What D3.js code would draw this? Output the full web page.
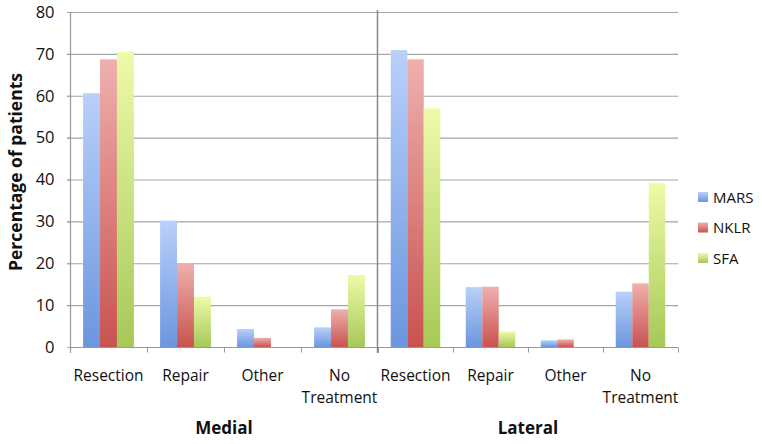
<!DOCTYPE html>
<html><head><meta charset="utf-8">
<script src="https://cdn.jsdelivr.net/npm/d3@7"></script>
<style>body{margin:0;background:#fff}svg{display:block}text{font-family:"Open Sans",sans-serif;fill:#111}</style>
</head><body><svg id="c" width="762" height="444"></svg>
<script>
const categories = ["Resection","Repair","Other","No Treatment"];
const groups = ["Medial","Lateral"];
const seriesNames = ["MARS","NKLR","SFA"];
const medialMARS = [60.6, 30.2, 4.3, 4.7];
const medialNKLR = [68.7, 20.0, 2.2, 9.0];
const medialSFA  = [70.5, 12.0, 0, 17.2];
const lateralMARS = [70.9, 14.3, 1.6, 13.2];
const lateralNKLR = [68.7, 14.4, 1.8, 15.2];
const lateralSFA  = [57.0, 3.7, 0, 39.2];
const yTicks = [0,10,20,30,40,50,60,70,80];

const data = {
  Medial: [medialMARS, medialNKLR, medialSFA],
  Lateral: [lateralMARS, lateralNKLR, lateralSFA]
};
const colors = [
  {top:"#b9d0fa", bot:"#6b96de"},
  {top:"#eeb0ae", bot:"#c9524f"},
  {top:"#eefaa8", bot:"#a6c957"}
];

const svg = d3.select("#c");
const defs = svg.append("defs");
colors.forEach((c,i)=>{
  const g = defs.append("linearGradient").attr("id","g"+i).attr("x1",0).attr("y1",0).attr("x2",0).attr("y2",1);
  g.append("stop").attr("offset","0%").attr("stop-color",c.top);
  g.append("stop").attr("offset","100%").attr("stop-color",c.bot);
});

const y = d3.scaleLinear().domain([0,80]).range([347,12]);
const panels = {
  Medial: d3.scaleBand().domain(categories).range([70,378]),
  Lateral: d3.scaleBand().domain(categories).range([378,678])
};

// gridlines
svg.append("g").selectAll("line").data(yTicks.filter(d=>d>0)).join("line")
  .attr("x1",67).attr("x2",678).attr("y1",d=>y(d)+0.5).attr("y2",d=>y(d)+0.5)
  .attr("stroke","#a6a6a6").attr("stroke-width",1.2);

// y axis labels
const yAxis = d3.axisLeft(y).tickValues(yTicks).tickSize(3).tickPadding(13);
const ya = svg.append("g").attr("transform","translate(70.5,0)").call(yAxis);
ya.select(".domain").remove();
ya.selectAll("line").attr("stroke","#999");
ya.selectAll("text").style("font-size","16.5px").style("font-family","'Open Sans',sans-serif").attr("fill","#111");
svg.append("line").attr("x1",70.5).attr("x2",70.5).attr("y1",12).attr("y2",353).attr("stroke","#999").attr("stroke-width",1.2);

// bars
groups.forEach(gname=>{
  const x = panels[gname];
  const bw = x.bandwidth();
  const xs = d3.scaleBand().domain(seriesNames).range([bw*0.17, bw*0.83]);
  const g = svg.append("g");
  seriesNames.forEach((s,si)=>{
    g.selectAll(null).data(categories).join("rect")
      .attr("x",(c)=>x(c)+xs(s))
      .attr("width",xs.bandwidth())
      .attr("y",(c,ci)=>y(data[gname][si][ci]))
      .attr("height",(c,ci)=>y(0)-y(data[gname][si][ci]))
      .attr("fill","url(#g"+si+")");
  });
  // x axis
  const xa = svg.append("g").attr("transform","translate(0,347.5)");
  xa.append("line").attr("x1",x.range()[0]).attr("x2",x.range()[1]).attr("stroke","#999").attr("stroke-width",1.2);
  const ticks = categories.map(c=>x(c)).concat([x.range()[1]]);
  xa.selectAll(null).data(ticks).join("line").attr("x1",d=>d+0.5).attr("x2",d=>d+0.5).attr("y1",0).attr("y2",5).attr("stroke","#999");
  categories.forEach(c=>{
    const words = c === "No Treatment" ? ["No","Treatment"] : [c];
    const t = xa.append("text").attr("text-anchor","middle").style("font-size","15.5px");
    words.forEach((w,i)=>t.append("tspan").attr("x",x(c)+bw/2).attr("y",33+i*22).text(w));
  });
  svg.append("text").attr("x",(x.range()[0]+x.range()[1])/2).attr("y",434)
    .attr("text-anchor","middle").style("font-size","17px").style("font-weight","bold").text(gname);
});

// separator
svg.append("line").attr("x1",377.5).attr("x2",377.5).attr("y1",10).attr("y2",353).attr("stroke","#888").attr("stroke-width",1.5);

// y title
svg.append("text").attr("transform","translate(22,172) rotate(-90)").attr("text-anchor","middle")
  .style("font-size","17.5px").style("font-weight","bold").text("Percentage of patients");

// legend
const lg = svg.append("g");
seriesNames.forEach((s,i)=>{
  const yy = 197 + i*30.5;
  lg.append("rect").attr("x",698).attr("y",yy-5).attr("width",10).attr("height",10).attr("fill","url(#g"+i+")");
  lg.append("text").attr("x",713).attr("y",yy+5.5).style("font-size","15px").text(s);
});
</script></body></html>
